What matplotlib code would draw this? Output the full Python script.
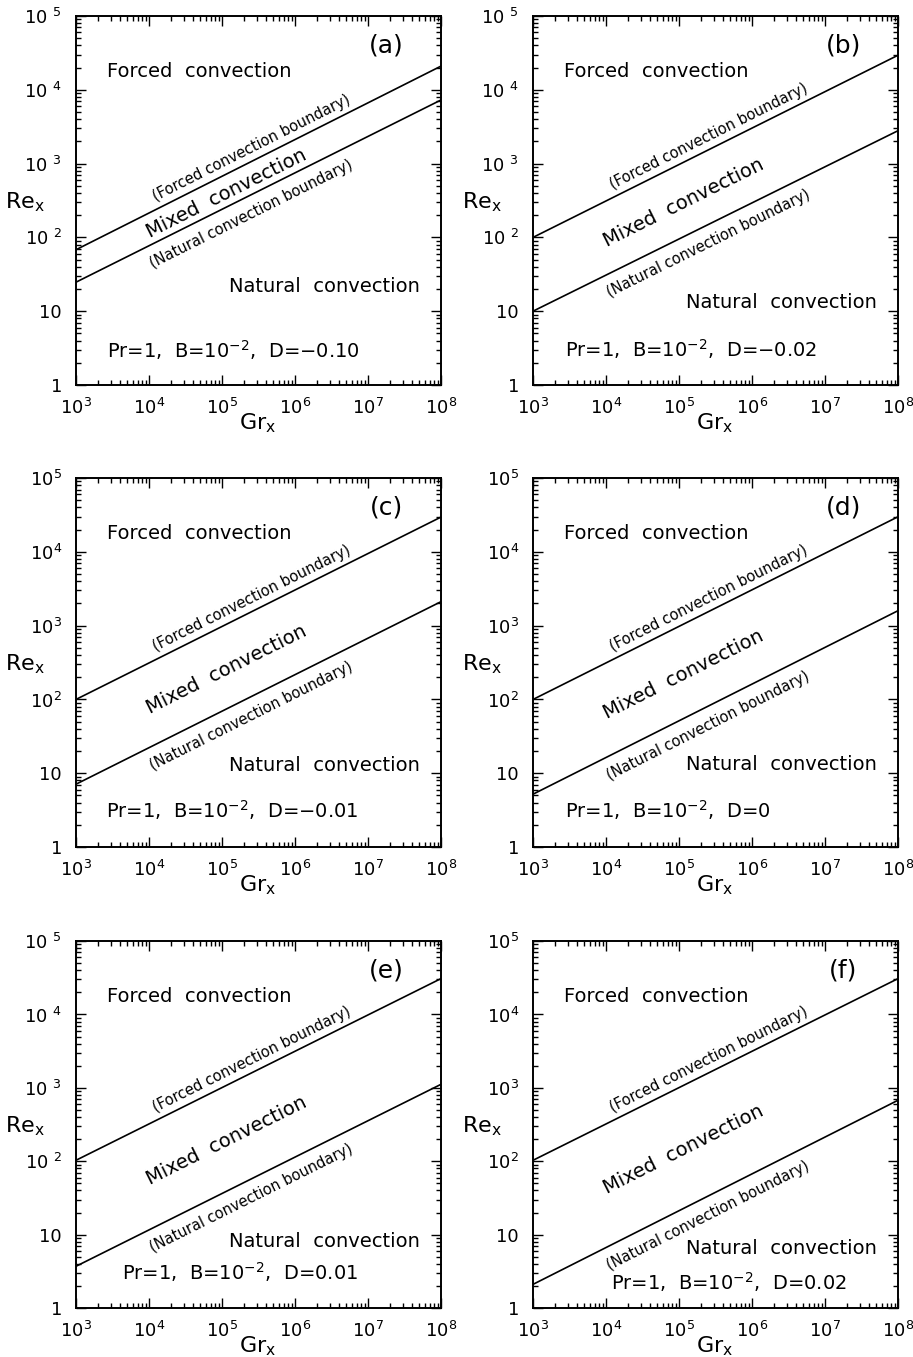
import numpy as np
import matplotlib
matplotlib.use("Agg")
import matplotlib.pyplot as plt
from matplotlib.ticker import LogLocator, FixedLocator, NullFormatter

plt.rcParams["font.family"] = ["DejaVu Sans"]
plt.rcParams["mathtext.default"] = "regular"

# panel data
panels = ["(a)", "(b)", "(c)", "(d)", "(e)", "(f)"]
d_values = ["\u22120.10", "\u22120.02", "\u22120.01", "0", "0.01", "0.02"]
gr_ends = [1e3, 1e8]
forced_start = [68, 100, 100, 100, 103, 103]
forced_end = [21000, 29500, 29700, 30000, 30900, 30900]
natural_start = [24.7, 10, 7.1, 5.2, 3.7, 2.1]
natural_end = [7300, 2800, 2120, 1600, 1120, 680]

x_ticks = [1e3, 1e4, 1e5, 1e6, 1e7, 1e8]
x_ticklabels = ["$10^3$", "$10^4$", "$10^5$", "$10^6$", "$10^7$", "$10^8$"]
y_ticks = [1, 10, 1e2, 1e3, 1e4, 1e5]
y_ticklabels_gap = ["1", "10", "10 $^2$", "10 $^3$", "10 $^4$", "10 $^5$"]
y_ticklabels_tight = ["1", "10", "$10^2$", "$10^3$", "$10^4$", "$10^5$"]

# layout (figure fractions)
col_left = [0.0832, 0.5838]
col_w = 0.400
row_bottom = [0.7163, 0.3758, 0.0361]
row_h = [0.2719, 0.2719, 0.2704]

# text placement (axes fraction) per panel
natural_y = [0.266, 0.224, 0.222, 0.223, 0.18, 0.163]
pr_xy = [(0.085, 0.095), (0.088, 0.097), (0.082, 0.10),
         (0.088, 0.099), (0.126, 0.098), (0.213, 0.071)]

fig = plt.figure(figsize=(9.13, 13.57), dpi=100)

axes = []
for i in range(6):
    r, c = divmod(i, 2)
    ax = fig.add_axes([col_left[c], row_bottom[r], col_w, row_h[r]])
    ax.set_xscale("log")
    ax.set_yscale("log")
    ax.set_xlim(1e3, 1e8)
    ax.set_ylim(1, 1e5)
    axes.append(ax)

fs = 14
for i, ax in enumerate(axes):
    ax.plot(gr_ends, [forced_start[i], forced_end[i]], color="black", lw=1.2)
    ax.plot(gr_ends, [natural_start[i], natural_end[i]], color="black", lw=1.2)

    ax.xaxis.set_major_locator(FixedLocator(x_ticks))
    ax.set_xticklabels(x_ticklabels)
    ax.yaxis.set_major_locator(FixedLocator(y_ticks))
    if i in (0, 1, 4):
        ax.set_yticklabels(y_ticklabels_gap)
    else:
        ax.set_yticklabels(y_ticklabels_tight)
    ax.xaxis.set_minor_locator(LogLocator(base=10, subs=np.arange(2, 10), numticks=20))
    ax.yaxis.set_minor_locator(LogLocator(base=10, subs=np.arange(2, 10), numticks=20))
    ax.xaxis.set_minor_formatter(NullFormatter())
    ax.yaxis.set_minor_formatter(NullFormatter())
    ax.tick_params(which="both", direction="in", top=True, right=True,
                   labelsize=13, width=1.0)
    ax.tick_params(which="major", length=7)
    ax.tick_params(which="minor", length=3.5)
    ax.tick_params(axis="x", which="major", pad=9)
    ax.tick_params(axis="y", which="major", pad=10)
    for s in ax.spines.values():
        s.set_linewidth(1.4)

    ax.text(-0.14, 0.496, "Re$_x$", transform=ax.transAxes, fontsize=16,
            ha="center", va="center")
    ax.text(0.497, -0.103, "Gr$_x$", transform=ax.transAxes, fontsize=16,
            ha="center", va="center")

    ax.text(0.85, 0.921, panels[i], transform=ax.transAxes, fontsize=18,
            ha="center", va="center")
    ax.text(0.085, 0.85, "Forced  convection", transform=ax.transAxes,
            fontsize=fs, ha="left", va="center")
    ax.text(0.42, natural_y[i], "Natural  convection", transform=ax.transAxes,
            fontsize=fs, ha="left", va="center")
    px, py = pr_xy[i]
    ax.text(px, py, "Pr=1,  B=10$^{-2}$,  D=" + d_values[i],
            transform=ax.transAxes, fontsize=fs, ha="left", va="center")

    # angle of the boundary lines on screen
    p1 = ax.transData.transform((gr_ends[0], forced_start[i]))
    p2 = ax.transData.transform((gr_ends[1], forced_end[i]))
    ang_f = np.degrees(np.arctan2(p2[1] - p1[1], p2[0] - p1[0]))
    q1 = ax.transData.transform((gr_ends[0], natural_start[i]))
    q2 = ax.transData.transform((gr_ends[1], natural_end[i]))
    ang_n = np.degrees(np.arctan2(q2[1] - q1[1], q2[0] - q1[0]))

    def on_line(lx, y0, y1):
        t = (lx - 3) / 5
        return 10 ** (np.log10(y0) + t * (np.log10(y1) - np.log10(y0)))

    lx = 5.4
    ax.annotate("(Forced convection boundary)",
                xy=(10 ** lx, on_line(lx, forced_start[i], forced_end[i])),
                xytext=(0, 10), textcoords="offset points",
                rotation=ang_f, rotation_mode="anchor",
                ha="center", va="center", fontsize=10.5)
    ax.annotate("(Natural convection boundary)",
                xy=(10 ** lx, on_line(lx, natural_start[i], natural_end[i])),
                xytext=(0, -14), textcoords="offset points",
                rotation=ang_n, rotation_mode="anchor",
                ha="center", va="center", fontsize=10.5)
    mx = 5.06
    ym = np.sqrt(on_line(mx, forced_start[i], forced_end[i]) *
                 on_line(mx, natural_start[i], natural_end[i]))
    ax.annotate("Mixed  convection", xy=(10 ** mx, ym),
                xytext=(0, -2), textcoords="offset points",
                rotation=(ang_f + ang_n) / 2, rotation_mode="anchor",
                ha="center", va="center", fontsize=fs)

fig.savefig("out.png", dpi=100)
